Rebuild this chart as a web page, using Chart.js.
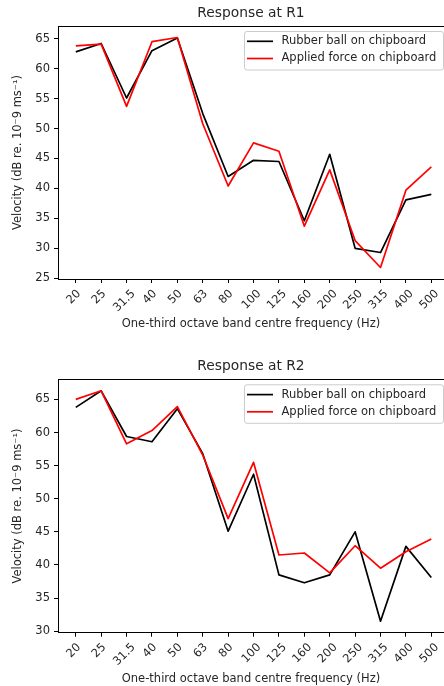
<!DOCTYPE html>
<html>
<head>
<meta charset="utf-8">
<script src="https://cdn.jsdelivr.net/npm/chart.js@4/dist/chart.umd.min.js"></script>
<style>
  html, body { margin: 0; padding: 0; background: #fff; overflow: hidden; width: 444px; height: 686px; }
  canvas { position: absolute; left: 0; }
  #r1 { top: 0; }
  #r2 { top: 340px; }
</style>
</head>
<body>
<canvas id="r1" width="444" height="340"></canvas>
<canvas id="r2" width="444" height="346"></canvas>
<script>
// One-third octave band centre frequencies (Hz)
const freqBands = ['20', '25', '31.5', '40', '50', '63', '80', '100', '125', '160', '200', '250', '315', '400', '500'];

// Velocity levels at receiver R1 (dB re. 1e-9 m/s)
const ballR1  = [62.8, 64.2, 55.1, 63.0, 65.1, 52.5, 42.0, 44.7, 44.5, 34.6, 45.7, 30.0, 29.3, 38.1, 39.0];
const forceR1 = [63.8, 64.1, 53.7, 64.5, 65.2, 50.8, 40.4, 47.6, 46.2, 33.7, 43.1, 31.3, 26.8, 39.7, 43.6];

// Velocity levels at receiver R2
const ballR2  = [63.8, 66.3, 59.4, 58.6, 63.6, 56.8, 45.1, 53.7, 38.5, 37.3, 38.5, 45.0, 31.5, 42.8, 38.1];
const forceR2 = [65.0, 66.3, 58.3, 60.3, 63.9, 56.6, 47.0, 55.5, 41.5, 41.8, 38.8, 42.9, 39.5, 42.0, 43.9];

const seriesNames = ['Rubber ball on chipboard', 'Applied force on chipboard'];
const seriesColors = ['#000000', '#ff0000'];
const yTitle = 'Velocity (dB re. 10\u207B9 ms\u207B\u00B9)';
const xTitle = 'One-third octave band centre frequency (Hz)';

// Category axis runs from -0.7 on the left; the view is cut just before the right margin
const X_MIN = -0.7;
const X_MAX = 14.5;

const FONT = "'DejaVu Sans', sans-serif";
const TEXT = '#262626';
const FS = 11.5;

Chart.defaults.font.family = FONT;
Chart.defaults.color = TEXT;

// 5% padding around the data range on the value axis
function valueLimits(a, b) {
  const all = a.concat(b);
  const lo = Math.min(...all), hi = Math.max(...all);
  const m = (hi - lo) * 0.05;
  return [lo - m, hi + m];
}

// Rotated category labels centred under each tick
const xTickLabels = {
  id: 'xTickLabels',
  afterDraw(chart) {
    const s = chart.scales.x, ctx = chart.ctx;
    ctx.save();
    ctx.font = FS + 'px ' + FONT;
    ctx.fillStyle = TEXT;
    ctx.textAlign = 'center';
    ctx.textBaseline = 'middle';
    freqBands.forEach((lab, i) => {
      const x = s.getPixelForValue(i);
      const w = ctx.measureText(lab).width;
      const half = (w + 11) * Math.SQRT1_2 / 2;
      ctx.save();
      ctx.translate(x - 2, s.top + 9 + half);
      ctx.rotate(-Math.PI / 4);
      ctx.fillText(lab, 0, 0);
      ctx.restore();
    });
    ctx.restore();
  }
};

// Top edge of the plot frame
const frame = {
  id: 'frame',
  afterDatasetsDraw(chart) {
    const a = chart.chartArea, ctx = chart.ctx;
    ctx.save();
    ctx.strokeStyle = '#000';
    ctx.lineWidth = 1;
    ctx.beginPath();
    ctx.moveTo(Math.round(a.left), Math.round(a.top) + 0.5);
    ctx.lineTo(chart.width, Math.round(a.top) + 0.5);
    ctx.stroke();
    ctx.restore();
  }
};

// Framed legend in the upper right of the plot area
const boxLegend = {
  id: 'boxLegend',
  afterDraw(chart) {
    const a = chart.chartArea, ctx = chart.ctx;
    const bx = a.right - 199.5, by = a.top + 5.5, bw = 199, bh = 38.5, r = 2.5;
    ctx.save();
    ctx.beginPath();
    ctx.moveTo(bx + r, by);
    ctx.lineTo(bx + bw - r, by);
    ctx.quadraticCurveTo(bx + bw, by, bx + bw, by + r);
    ctx.lineTo(bx + bw, by + bh - r);
    ctx.quadraticCurveTo(bx + bw, by + bh, bx + bw - r, by + bh);
    ctx.lineTo(bx + r, by + bh);
    ctx.quadraticCurveTo(bx, by + bh, bx, by + bh - r);
    ctx.lineTo(bx, by + r);
    ctx.quadraticCurveTo(bx, by, bx + r, by);
    ctx.closePath();
    ctx.fillStyle = 'rgba(255,255,255,0.8)';
    ctx.fill();
    ctx.strokeStyle = '#cccccc';
    ctx.lineWidth = 1;
    ctx.stroke();
    ctx.font = FS + 'px ' + FONT;
    ctx.textBaseline = 'middle';
    ctx.textAlign = 'left';
    chart.data.datasets.forEach((ds, i) => {
      const y = by + 9.8 + i * 17.2;
      ctx.strokeStyle = ds.borderColor;
      ctx.lineWidth = 1.7;
      ctx.beginPath();
      ctx.moveTo(bx + 2.5, y);
      ctx.lineTo(bx + 28.5, y);
      ctx.stroke();
      ctx.fillStyle = TEXT;
      ctx.fillText(ds.label, bx + 37, y);
    });
    ctx.restore();
  }
};

function makeChart(id, title, ball, force, geom) {
  const [ymin, ymax] = valueLimits(ball, force);
  const toPts = arr => arr.map((v, i) => ({ x: i, y: v }));
  const canvas = document.getElementById(id);
  const H = canvas.height;
  return new Chart(canvas, {
    type: 'line',
    data: {
      datasets: [
        { label: seriesNames[0], data: toPts(ball), borderColor: seriesColors[0], order: 1 },
        { label: seriesNames[1], data: toPts(force), borderColor: seriesColors[1], order: 0 }
      ]
    },
    options: {
      responsive: false,
      animation: false,
      events: [],
      elements: {
        line: { borderWidth: 1.7, tension: 0, borderJoinStyle: 'round', fill: false },
        point: { radius: 0 }
      },
      layout: { padding: { left: 0, right: 0, top: 0, bottom: 0 } },
      plugins: {
        legend: { display: false },
        tooltip: { enabled: false },
        title: {
          display: true,
          text: title,
          fullSize: false,
          color: TEXT,
          font: { size: 13.8, weight: 'normal', family: FONT },
          padding: { top: geom.titleTop, bottom: geom.titleBottom }
        }
      },
      scales: {
        x: {
          type: 'linear',
          min: X_MIN,
          max: X_MAX,
          afterBuildTicks: s => { s.ticks = freqBands.map((_, i) => ({ value: i })); },
          afterFit: s => { s.height = H - geom.plotBottom; },
          ticks: { display: false },
          grid: { drawOnChartArea: false, drawTicks: true, tickLength: 4, tickColor: '#000', tickWidth: 1 },
          border: { display: true, color: '#000', width: 1 },
          title: {
            display: true,
            text: xTitle,
            color: TEXT,
            font: { size: FS, family: FONT },
            padding: { top: 0, bottom: geom.xTitlePad }
          }
        },
        y: {
          type: 'linear',
          min: ymin,
          max: ymax,
          afterBuildTicks: s => {
            const t = [];
            for (let v = Math.ceil(ymin / 5) * 5; v <= ymax; v += 5) t.push({ value: v });
            s.ticks = t;
          },
          afterFit: s => { s.width = 58; },
          ticks: { color: TEXT, font: { size: FS, family: FONT }, padding: 4 },
          grid: { drawOnChartArea: false, drawTicks: true, tickLength: 4, tickColor: '#000', tickWidth: 1 },
          border: { display: true, color: '#000', width: 1 },
          title: {
            display: true,
            text: yTitle,
            color: TEXT,
            font: { size: FS, family: FONT },
            padding: { top: 11, bottom: 0 }
          }
        }
      }
    },
    plugins: [frame, xTickLabels, boxLegend]
  });
}

makeChart('r1', 'Response at R1', ballR1, forceR1,
  { titleTop: 5, titleBottom: 4.44, plotBottom: 279, xTitlePad: 9 });
makeChart('r2', 'Response at R2', ballR2, forceR2,
  { titleTop: 17.7, titleBottom: 5.04, plotBottom: 292.7, xTitlePad: 0.5 });
</script>
</body>
</html>
